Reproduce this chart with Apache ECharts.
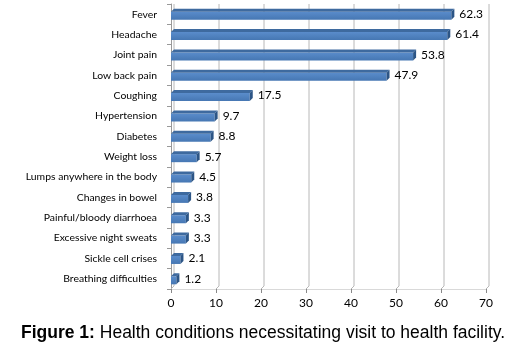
<!DOCTYPE html>
<html><head><meta charset="utf-8">
<script src="https://cdn.jsdelivr.net/npm/echarts@6/dist/echarts.min.js"></script>
<style>html,body{margin:0;padding:0;background:#fff}#c{width:522px;height:343px}</style>
</head><body><div id="c"></div>
<script>
const categories = ['Fever','Headache','Joint pain','Low back pain','Coughing','Hypertension','Diabetes','Weight loss','Lumps anywhere in the body','Changes in bowel','Painful/bloody diarrhoea','Excessive night sweats','Sickle cell crises','Breathing difficulties'];
const values = [62.3,61.4,53.8,47.9,17.5,9.7,8.8,5.7,4.5,3.8,3.3,3.3,2.1,1.2];
const xTicks = [0,10,20,30,40,50,60,70];

const FONT = 'Lato';
const DX = 3, DY = 3;
const chart = echarts.init(document.getElementById('c'));

function gridItem(params, api) {
  const cs = params.coordSys;
  const x = api.coord([api.value(0), 0])[0];
  const top = cs.y, bot = cs.y + cs.height;
  const col = '#b8b8b8';
  return {
    type: 'group',
    children: [
      {type: 'line', shape: {x1: x + DX, y1: top, x2: x + DX, y2: bot - DY}, style: {stroke: col, lineWidth: 1}},
      {type: 'line', shape: {x1: x, y1: bot, x2: x + DX, y2: bot - DY}, style: {stroke: col, lineWidth: 1}}
    ]
  };
}

function barItem(params, api) {
  const v = api.value(0), i = api.value(1);
  const s = api.coord([0, i]), e = api.coord([v, i]);
  const band = api.size([0, 1])[1];
  const h = Math.round(band * 0.38);
  const yc = s[1];
  const yf = yc - h / 2 + 1.5;
  const x0 = s[0], x1 = e[0];
  return {
    type: 'group',
    children: [
      {type: 'rect', shape: {x: x0, y: yf, width: x1 - x0, height: h},
       style: {fill: new echarts.graphic.LinearGradient(0, 0, 0, 1, [{offset: 0, color: '#5a8ccb'}, {offset: 1, color: '#4677b3'}])}},
      {type: 'polygon', shape: {points: [[x0, yf], [x0 + DX, yf - DY], [x1 + DX, yf - DY], [x1, yf]]},
       style: {fill: '#3e6a9f'}},
      {type: 'polygon', shape: {points: [[x1, yf], [x1 + DX, yf - DY], [x1 + DX, yf + h - DY], [x1, yf + h]]},
       style: {fill: '#2c5586'}},
      {type: 'text', x: x1 + DX + 5, y: yc,
       style: {text: String(v), fontFamily: FONT, fontSize: 12, fill: '#000', verticalAlign: 'middle', align: 'left'}}
    ]
  };
}

chart.setOption({
  animation: false,
  title: {
    text: '{b|Figure 1:}{n| Health conditions necessitating visit to health facility.}',
    left: 16, top: 319,
    textStyle: {fontWeight: 'normal', rich: {
      b: {fontFamily: 'Liberation Sans', fontWeight: 'bold', fontSize: 17.5, color: '#000'},
      n: {fontFamily: 'Liberation Sans', fontWeight: 'normal', fontSize: 17.5, color: '#000'}
    }}
  },
  grid: {left: 171, right: 36, top: 4, bottom: 54},
  xAxis: {
    type: 'value', min: 0, max: 70, interval: 10,
    axisLine: {show: true, lineStyle: {color: '#d9d9d9'}},
    axisTick: {show: true, length: 4, lineStyle: {color: '#888'}},
    splitLine: {show: false},
    axisLabel: {fontFamily: FONT, fontSize: 12, color: '#000', margin: 8}
  },
  yAxis: {
    type: 'category', data: categories, inverse: true,
    axisLine: {show: true, lineStyle: {color: '#999'}},
    axisTick: {show: true, length: 4, lineStyle: {color: '#999'}},
    axisLabel: {fontFamily: FONT, fontSize: 10.4, color: '#000', margin: 14}
  },
  series: [
    {type: 'custom', renderItem: gridItem, clip: false, silent: true,
     data: xTicks.map(t => [t, 0]), encode: {x: 0, y: 1}, z: 1},
    {type: 'custom', renderItem: barItem, clip: false,
     data: values.map((v, i) => [v, i]), encode: {x: 0, y: 1}, z: 2}
  ]
});
</script>
</body></html>
